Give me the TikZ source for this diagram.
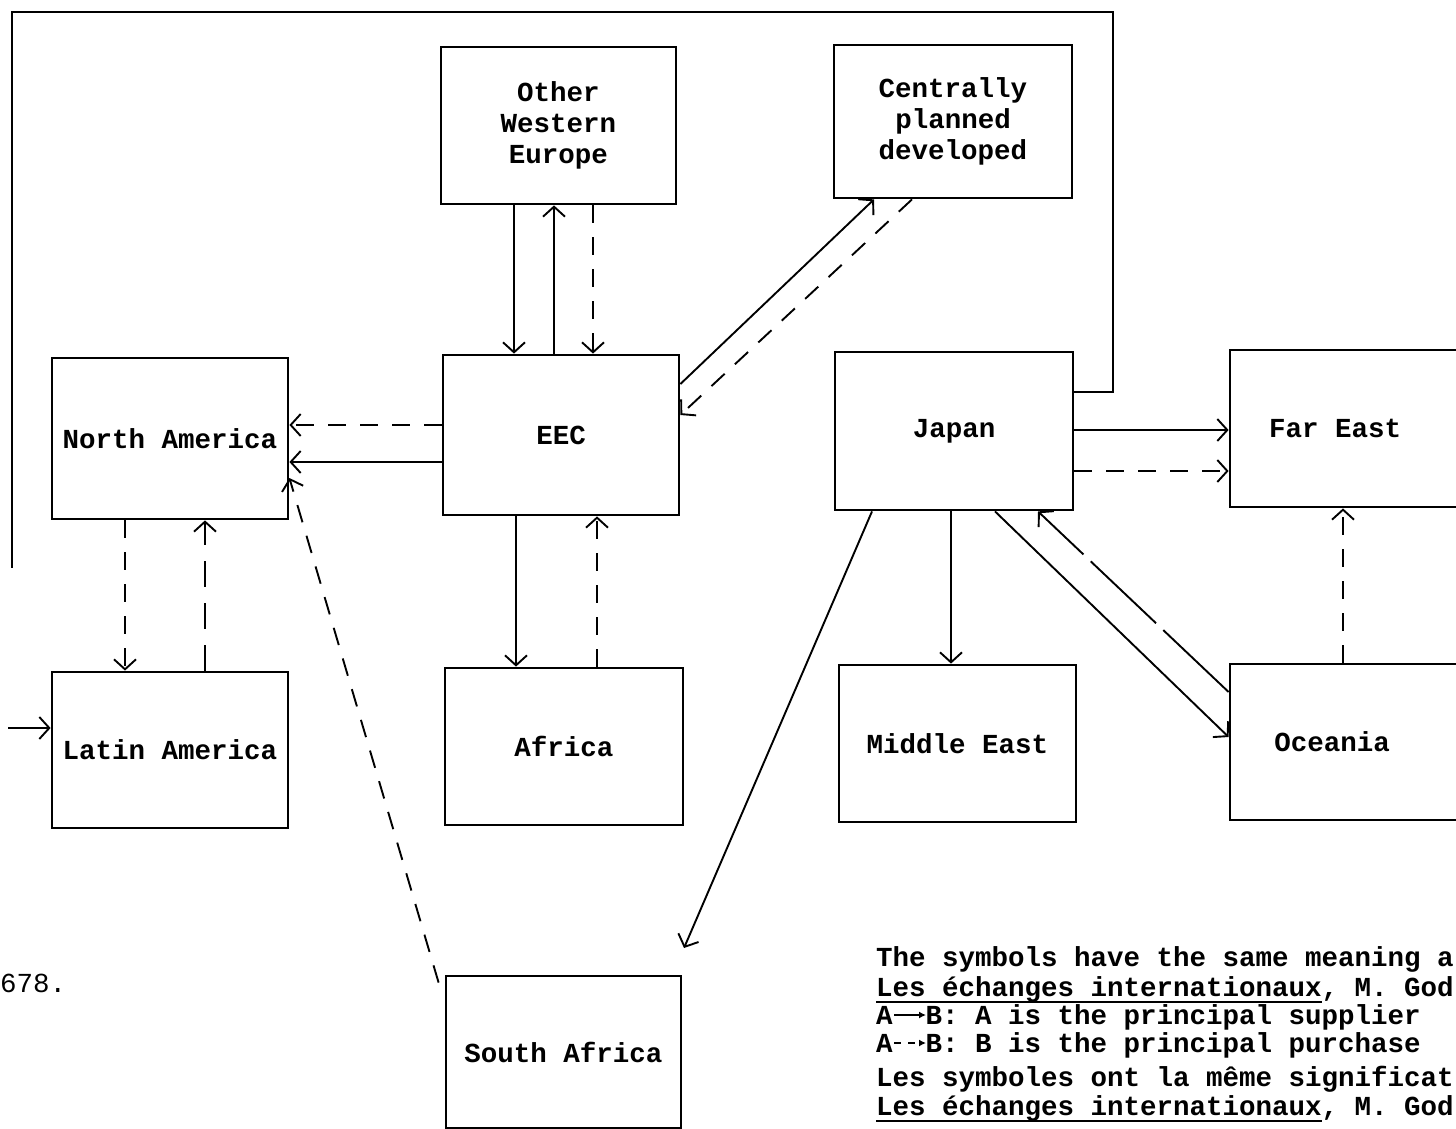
\documentclass[tikz,border=0pt]{standalone}
\usepackage{fontspec}
\setmonofont{Liberation Mono}
\usetikzlibrary{arrows.meta}
\tikzset{
  tw/.style={font=\ttfamily\bfseries\fontsize{27.5}{31}\selectfont},
  box/.style={draw, line width=2.8pt, tw, align=center, inner sep=0pt},
  link/.style={line width=1.9pt, -{Straight Barb[length=10pt,width=22pt,line width=1.9pt]}},
  dlink/.style={link, dash pattern=on 18pt off 14pt},
  ldlink/.style={link, dash pattern=on 90pt off 10pt},
  frameline/.style={line width=1.9pt},
  legend/.style={tw, anchor=base west, inner sep=0pt},
}
\begin{document}
\begin{tikzpicture}[x=1pt,y=-1pt]
\useasboundingbox (0,0) rectangle (1456,1129);
\fill[white] (0,0) rectangle (1456,1129);

% boxes
\node[box, minimum width=235pt, minimum height=157pt] (owe) at (558.5,125.5) {Other\\Western\\Europe};
\node[box, minimum width=238pt, minimum height=153pt] (cpd) at (953,121.5) {Centrally\\planned\\developed};
\node[box, minimum width=236pt, minimum height=161pt] (na) at (170,438.5) {North America};
\node[box, minimum width=236pt, minimum height=160pt] (eec) at (561,435) {EEC};
\node[box, minimum width=238pt, minimum height=158pt] (jp) at (954,431) {Japan};
\node[box, minimum width=236pt, minimum height=157pt] (fe) at (1348,428.5) {Far East\hspace*{26pt}};
\node[box, minimum width=236pt, minimum height=156pt] (la) at (170,750) {Latin America};
\node[box, minimum width=238pt, minimum height=157pt] (af) at (564,746.5) {Africa};
\node[box, minimum width=237pt, minimum height=157pt] (me) at (957.5,743.5) {Middle East};
\node[box, minimum width=236pt, minimum height=156pt] (oc) at (1348,742) {Oceania\hspace*{32pt}};
\node[box, minimum width=235pt, minimum height=152pt] (sa) at (563.5,1052) {South Africa};

% Other Western Europe <-> EEC
\draw[link]  (owe.south -| 514,0) -- (eec.north -| 514,0);
\draw[link]  (eec.north -| 554,0) -- (owe.south -| 554,0);
\draw[dlink] (owe.south -| 593,0) -- (eec.north -| 593,0);

% EEC <-> Centrally planned
\draw[link]  (eec.east |- 0,384) -- (cpd.south -| 874,0);
\draw[dlink] (cpd.south -| 912,0) -- (eec.east |- 0,415);

% EEC -> North America
\draw[dlink] (eec.west |- 0,425) -- (na.east |- 0,425);
\draw[link]  (eec.west |- 0,462) -- (na.east |- 0,462);

% North America <-> Latin America
\draw[dlink] (na.south -| 125,0) -- (la.north -| 125,0);
\draw[link, dash pattern=on 26pt off 16pt] (la.north -| 205,0) -- (na.south -| 205,0);

% EEC <-> Africa
\draw[link]  (eec.south -| 516,0) -- (af.north -| 516,0);
\draw[dlink] (af.north -| 597,0) -- (eec.south -| 597,0);

% South Africa -> North America
\draw[dlink] ([xshift=-6pt,yshift=-8pt]sa.north west) -- (na.east |- 0,478);

% Japan links
\coordinate (saend) at (684,948);
\draw[link]  (jp.south -| 872,0) -- (saend);
\draw[link]  (jp.south -| 951,0) -- (me.north -| 951,0);
\draw[link]  (jp.south -| 995,0) -- (oc.west |- 0,737);
\draw[ldlink] (oc.west |- 0,692) -- (jp.south -| 1038,0);
\draw[link]  (jp.east |- 0,430) -- (fe.west |- 0,430);
\draw[dlink] (jp.east |- 0,471) -- (fe.west |- 0,471);
\draw[dlink] (oc.north -| 1343,0) -- (fe.south -| 1343,0);

% outer loop Japan -> Latin America
\draw[frameline] (jp.east |- 0,392) -- (1113,392) -- (1113,12) -- (12,12) -- (12,568);
\coordinate (lain) at (8,728);
\draw[link] (lain) -- (la.west |- lain);

% side number
\node[font=\ttfamily\fontsize{27.5}{31}\selectfont, anchor=base west, inner sep=0pt] (num) at (0,992) {678.};

% legend
\node[legend] (l1) at (876,966) {The symbols have the same meaning a};
\node[legend] (l2) at (876,996) {Les échanges internationaux, M. God};
\draw[line width=2.4pt] ([yshift=-6pt]l2.base west) -- ++(446,0);
\node[legend] (l3) at (876,1024) {A\phantom{--}B: A is the principal supplier};
\draw[line width=2pt, -{Latex[length=7pt,width=7pt]}] ([xshift=18pt,yshift=9pt]l3.base west) -- ([xshift=50pt,yshift=9pt]l3.base west);
\node[legend] (l4) at (876,1052) {A\phantom{--}B: B is the principal purchase};
\draw[line width=2pt, dash pattern=on 7pt off 7pt, -{Latex[length=7pt,width=7pt]}] ([xshift=18pt,yshift=9pt]l4.base west) -- ([xshift=50pt,yshift=9pt]l4.base west);
\node[legend] (l5) at (876,1086) {Les symboles ont la même significat};
\node[legend] (l6) at (876,1115) {Les échanges internationaux, M. God};
\draw[line width=2.4pt] ([yshift=-6pt]l6.base west) -- ++(446,0);
\end{tikzpicture}
\end{document}
